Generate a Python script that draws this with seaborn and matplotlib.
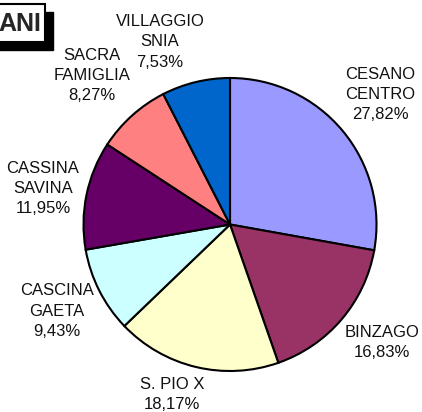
import numpy as np
import matplotlib
matplotlib.use('Agg')
import matplotlib.pyplot as plt
from matplotlib.patches import Rectangle
import seaborn as sns

# dati (ordine orario partendo da ore 12)
quartieri = ['CESANO\nCENTRO', 'BINZAGO', 'S. PIO X', 'CASCINA\nGAETA',
             'CASSINA\nSAVINA', 'SACRA\nFAMIGLIA', 'VILLAGGIO\nSNIA']
percentuali = [27.82, 16.83, 18.17, 9.43, 11.95, 8.27, 7.53]
colori = ['#9999FF', '#993366', '#FFFFCC', '#CCFFFF',
          '#660066', '#FF8080', '#0066CC']

sns.set_style('white')
plt.rcParams['font.family'] = ['Liberation Sans', 'DejaVu Sans']

fig = plt.figure(figsize=(4.22, 4.12), dpi=100)
ax = fig.add_axes([0, 0, 1, 1])

cx, cy, r = 230, 412 - 224.5, 146.5
wedges, _ = ax.pie(percentuali, colors=sns.color_palette(colori), startangle=90,
                   counterclock=False, center=(cx, cy), radius=r,
                   wedgeprops=dict(edgecolor='black', linewidth=1.5))

# pie() reimposta i limiti: rimetto le coordinate in pixel
ax.set_xlim(0, 422)
ax.set_ylim(0, 412)
ax.set_aspect('equal')
ax.axis('off')

# etichette fuori dalla torta: distanza (in raggi) e piccola rotazione
# rispetto all'angolo medio della fetta, come le dispone Excel
dist = [1.353, 1.315, 1.229, 1.32, 1.30, 1.384, 1.334]
rot = [0.9, 2.5, -5.4, -0.3, 0.6, 0.9, 7.4]
for w, lab, p, d, s in zip(wedges, quartieri, percentuali, dist, rot):
    ang = np.deg2rad((w.theta1 + w.theta2) / 2 + s)
    x = cx + d * r * np.cos(ang)
    y = cy + d * r * np.sin(ang)
    testo = lab + '\n' + f'{p:.2f}'.replace('.', ',') + '%'
    ax.text(x, y, testo, ha='center', va='center', fontsize=12,
            linespacing=1.42, color='#111111')

# riquadro del titolo (tagliato a sinistra)
ax.add_patch(Rectangle((-20, 412 - 50), 73, 38, facecolor='black',
                       edgecolor='black', zorder=3))
ax.add_patch(Rectangle((-20, 412 - 42), 65, 38, facecolor='white',
                       edgecolor='black', linewidth=1.5, zorder=4))
ax.text(41, 412 - 24, 'ANI', ha='right', va='center', fontsize=18,
        fontweight='bold', zorder=5)

plt.savefig('out.png', dpi=100)
